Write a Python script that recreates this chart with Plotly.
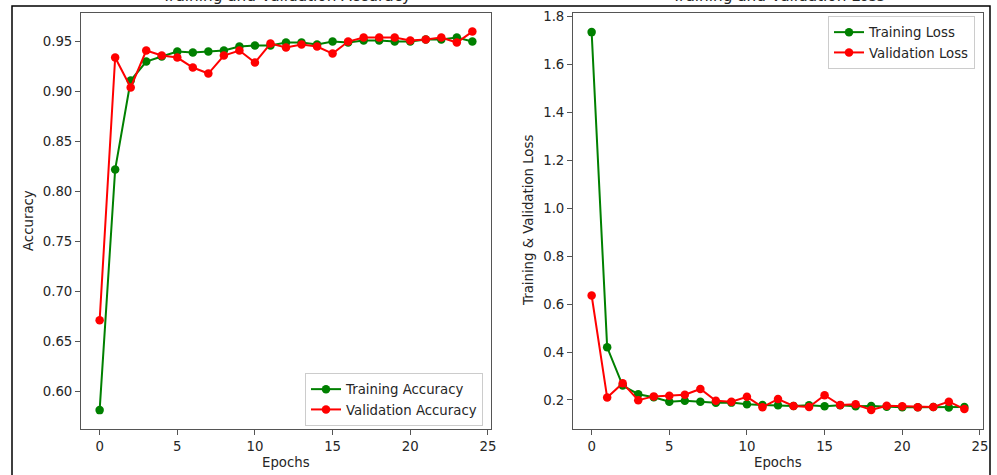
import plotly.graph_objects as go

epochs = list(range(25))
train_acc = [0.581, 0.822, 0.911, 0.930, 0.935, 0.940, 0.939, 0.940, 0.941, 0.945,
             0.946, 0.946, 0.949, 0.949, 0.947, 0.950, 0.949, 0.951, 0.951, 0.950,
             0.950, 0.952, 0.952, 0.954, 0.950]
val_acc = [0.671, 0.934, 0.904, 0.941, 0.936, 0.934, 0.924, 0.918, 0.936, 0.941,
           0.929, 0.948, 0.944, 0.947, 0.945, 0.938, 0.950, 0.954, 0.954, 0.954,
           0.951, 0.952, 0.954, 0.949, 0.960]
train_loss = [1.735, 0.420, 0.260, 0.224, 0.211, 0.193, 0.197, 0.193, 0.188, 0.189,
              0.182, 0.179, 0.178, 0.175, 0.178, 0.174, 0.178, 0.174, 0.175, 0.172,
              0.170, 0.170, 0.171, 0.169, 0.171]
val_loss = [0.636, 0.210, 0.270, 0.199, 0.215, 0.218, 0.222, 0.246, 0.197, 0.193,
            0.213, 0.170, 0.204, 0.175, 0.171, 0.220, 0.179, 0.182, 0.158, 0.176,
            0.174, 0.170, 0.171, 0.193, 0.162]
x_ticks = [0, 5, 10, 15, 20, 25]
acc_ticks = [0.60, 0.65, 0.70, 0.75, 0.80, 0.85, 0.90, 0.95]
loss_ticks = [0.2, 0.4, 0.6, 0.8, 1.0, 1.2, 1.4, 1.6, 1.8]

W, H = 997, 475
FONT = "DejaVu Sans"
FS = 13.3
TXT = "#262626"
SPINE = "#555555"

def px_x(p):
    return p / W

def px_y(p):
    return 1 - p / H

fig = go.Figure()

def add(x, y, name, color, xa, ya, leg):
    fig.add_trace(go.Scatter(
        x=x, y=y, name=name, mode="lines+markers",
        line=dict(color=color, width=2),
        marker=dict(color=color, size=8.5),
        xaxis=xa, yaxis=ya, legend=leg))

add(epochs, train_acc, "Training Accuracy", "#008000", "x", "y", "legend")
add(epochs, val_acc, "Validation Accuracy", "#ff0000", "x", "y", "legend")
add(epochs, train_loss, "Training Loss", "#008000", "x2", "y2", "legend2")
add(epochs, val_loss, "Validation Loss", "#ff0000", "x2", "y2", "legend2")

axis_common = dict(
    showline=True, linecolor=SPINE, linewidth=1, mirror=True,
    ticks="outside", ticklen=5, tickcolor=SPINE, tickwidth=1,
    showgrid=False, zeroline=False, automargin=False,
    tickfont=dict(family=FONT, size=FS, color=TXT),
)

ydom = [px_y(429), px_y(13)]
fig.update_layout(
    width=W, height=H,
    margin=dict(l=0, r=0, t=0, b=0),
    paper_bgcolor="white", plot_bgcolor="white",
    font=dict(family=FONT, size=FS, color=TXT),
    showlegend=True,
    xaxis=dict(domain=[px_x(81), px_x(491)], range=[-1.2, 25.2],
               tickvals=x_ticks, anchor="y", **axis_common),
    yaxis=dict(domain=ydom, range=[0.5621, 0.9786], tickvals=acc_ticks,
               tickformat=".2f", anchor="x", **axis_common),
    xaxis2=dict(domain=[px_x(573), px_x(983)], range=[-1.2, 25.2],
                tickvals=x_ticks, anchor="y2", **axis_common),
    yaxis2=dict(domain=ydom, range=[0.0789, 1.8148], tickvals=loss_ticks,
                tickformat=".1f", anchor="x2", **axis_common),
    legend=dict(x=px_x(483), xanchor="right", y=px_y(426), yanchor="bottom",
                bgcolor="rgba(255,255,255,0.8)", bordercolor="#cccccc", borderwidth=1,
                font=dict(family=FONT, size=FS, color=TXT), itemwidth=30),
    legend2=dict(x=px_x(975), xanchor="right", y=px_y(16), yanchor="top",
                 bgcolor="rgba(255,255,255,0.8)", bordercolor="#cccccc", borderwidth=1,
                 font=dict(family=FONT, size=FS, color=TXT), itemwidth=30),
)

annotations = [
    dict(text="Epochs", x=px_x(286), y=px_y(462), xref="paper", yref="paper",
         showarrow=False, xanchor="center", yanchor="middle"),
    dict(text="Epochs", x=px_x(778), y=px_y(462), xref="paper", yref="paper",
         showarrow=False, xanchor="center", yanchor="middle"),
    dict(text="Accuracy", x=px_x(28), y=px_y(221), xref="paper", yref="paper",
         showarrow=False, xanchor="center", yanchor="middle", textangle=-90),
    dict(text="Training & Validation Loss", x=px_x(528), y=px_y(221), xref="paper",
         yref="paper", showarrow=False, xanchor="center", yanchor="middle", textangle=-90),
    dict(text="Training and Validation Accuracy", x=px_x(286), y=px_y(7),
         xref="paper", yref="paper", showarrow=False, xanchor="center",
         yanchor="bottom", font=dict(size=15.3)),
    dict(text="Training and Validation Loss", x=px_x(778), y=px_y(7),
         xref="paper", yref="paper", showarrow=False, xanchor="center",
         yanchor="bottom", font=dict(size=15.3)),
]
fig.update_layout(annotations=annotations)

# outer black frame (left, top, right edges visible)
frame = dict(type="path", xref="paper", yref="paper",
             path=f"M {px_x(12)},{-0.05} L {px_x(12)},{px_y(6)} L {px_x(990)},{px_y(6)} L {px_x(990)},{-0.05}",
             line=dict(color="black", width=1.5))
fig.update_layout(shapes=[frame])

fig.write_html("out.html", config={"displayModeBar": False},
               post_script="document.body.style.margin='0';document.body.style.overflow='hidden';")
